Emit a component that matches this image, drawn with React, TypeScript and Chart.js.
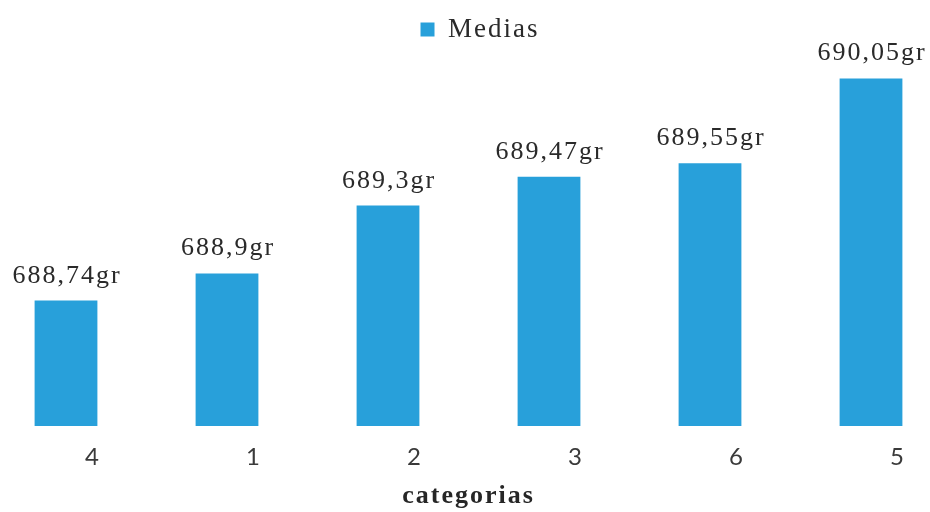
import React, { useEffect, useRef } from "react";
import { Chart, registerables } from "chart.js";

Chart.register(...registerables);

// Mean weight per category, in the order the bars are shown
const categories = ["4", "1", "2", "3", "6", "5"];
const medias = [688.74, 688.9, 689.3, 689.47, 689.55, 690.05];
const seriesName = "Medias";
const axisTitle = "categorias";
const yMin = 688;
const yMax = 690.2;

const BAR_BLUE = "#28A0DA";
const SERIF = '"Liberation Serif", "Times New Roman", serif';

const formatGr = (v: number) => String(v).replace(".", ",") + "gr";

// Slightly spread lettering used across the chart's text
const spacing = {
  id: "spacing",
  beforeUpdate(chart: any) {
    chart.ctx.letterSpacing = "2px";
  },
  beforeDraw(chart: any) {
    chart.ctx.letterSpacing = "2px";
  },
};

// Value label above each bar
const valueLabels = {
  id: "valueLabels",
  afterDatasetsDraw(chart: any) {
    const { ctx } = chart;
    const meta = chart.getDatasetMeta(0);
    ctx.save();
    ctx.font = `26px ${SERIF}`;
    ctx.fillStyle = "#2a2a2a";
    ctx.textAlign = "center";
    ctx.textBaseline = "alphabetic";
    ctx.letterSpacing = "2px";
    meta.data.forEach((bar: any, i: number) => {
      ctx.fillText(formatGr(medias[i]), bar.x + 1, bar.y - 18);
    });
    ctx.restore();
  },
};

export default function App() {
  const canvasRef = useRef<HTMLCanvasElement | null>(null);

  useEffect(() => {
    if (!canvasRef.current) return;
    const chart = new Chart(canvasRef.current, {
      type: "bar",
      data: {
        labels: categories,
        datasets: [
          {
            label: seriesName,
            data: medias,
            base: yMin,
            backgroundColor: BAR_BLUE,
            borderWidth: 0,
            categoryPercentage: 1,
            barPercentage: 0.39,
            clip: false as any,
          },
        ],
      },
      options: {
        responsive: false,
        animation: false,
        layout: { padding: { top: 6, left: 0, right: 0, bottom: 0 } },
        plugins: {
          legend: {
            position: "top",
            labels: {
              boxWidth: 14,
              boxHeight: 14,
              padding: 10,
              color: "#2a2a2a",
              font: { family: SERIF, size: 27 },
            },
          },
          tooltip: { enabled: false },
        },
        scales: {
          x: {
            type: "category",
            offset: false,
            grid: { display: false, drawTicks: false },
            border: { display: false },
            ticks: {
              padding: 17,
              labelOffset: 27,
              color: "#3a3a3a",
              font: { family: "Lato, 'Open Sans', sans-serif", size: 24 },
              maxRotation: 0,
              autoSkip: false,
            },
            title: {
              display: true,
              text: axisTitle,
              color: "#262626",
              font: { family: SERIF, size: 26, weight: "bold" },
              padding: { top: 0, bottom: 0 },
            },
            afterFit(scale: any) {
              scale.height = 86;
            },
          },
          y: {
            type: "linear",
            position: "left",
            min: yMin,
            max: yMax,
            grid: { display: false, drawTicks: false },
            border: { display: false },
            ticks: { display: false },
            afterFit(scale: any) {
              scale.width = 66;
            },
          },
          yRight: {
            type: "linear",
            position: "right",
            grid: { display: false, drawTicks: false },
            border: { display: false },
            ticks: { display: false },
            afterFit(scale: any) {
              scale.width = 89;
            },
          },
        },
      },
      plugins: [spacing, valueLabels],
    });
    return () => chart.destroy();
  }, []);

  return (
    <div
      style={{
        position: "fixed",
        left: 0,
        top: 0,
        width: 930,
        height: 512,
        overflow: "hidden",
        background: "#fff",
      }}
    >
      <canvas ref={canvasRef} width={960} height={512} />
    </div>
  );
}
